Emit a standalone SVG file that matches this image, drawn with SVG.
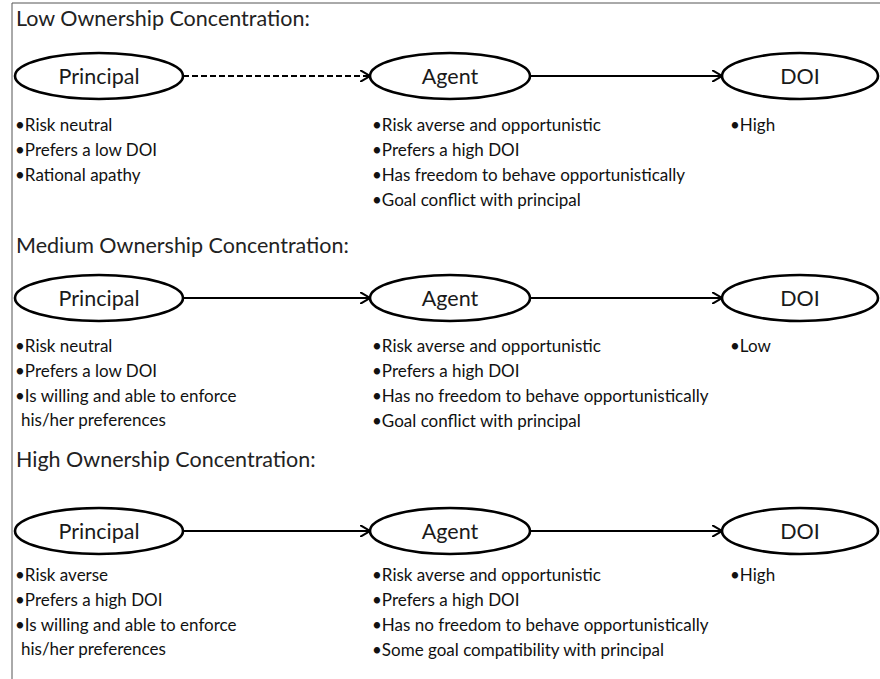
<svg xmlns="http://www.w3.org/2000/svg" width="880" height="679" viewBox="0 0 880 679">
<defs>
<style>
.t{font-family:Lato,"Liberation Sans",sans-serif;font-size:21.5px;fill:#222}
.l{font-family:Lato,"Liberation Sans",sans-serif;font-size:21.5px;fill:#1a1a1a;text-anchor:middle}
.b{font-family:Lato,"Liberation Sans",sans-serif;font-size:17px;fill:#111}
.e{fill:#fff;stroke:#000;stroke-width:2.6}
.c{stroke:#000;stroke-width:2;fill:none}
.d{stroke-dasharray:6 3}
</style>
<marker id="ah" viewBox="0 0 10 12" refX="10" refY="6" markerWidth="10" markerHeight="12" markerUnits="userSpaceOnUse" orient="auto">
<path d="M0,0 L10,6 L0,12" fill="none" stroke="#000" stroke-width="2"/>
</marker>
</defs>
<rect width="880" height="679" fill="#fff"/>
<path d="M880,3 H12 V679" fill="none" stroke="#555" stroke-width="1"/>

<g id="connectors">
<line class="c d" x1="183" y1="76" x2="370" y2="76" marker-end="url(#ah)"/>
<line class="c" x1="530" y1="76" x2="722" y2="76" marker-end="url(#ah)"/>
<line class="c" x1="183" y1="298" x2="370" y2="298" marker-end="url(#ah)"/>
<line class="c" x1="530" y1="298" x2="722" y2="298" marker-end="url(#ah)"/>
<line class="c" x1="183" y1="531" x2="370" y2="531" marker-end="url(#ah)"/>
<line class="c" x1="530" y1="531" x2="722" y2="531" marker-end="url(#ah)"/>
</g>

<g id="section-low">
<text class="t" x="16" y="26">Low Ownership Concentration:</text>
<g id="low-principal">
<ellipse class="e" cx="99" cy="76" rx="84" ry="23"/>
<text class="l" x="99" y="84">Principal</text>
<text class="b" x="15" y="131">•Risk neutral</text>
<text class="b" x="15" y="156">•Prefers a low DOI</text>
<text class="b" x="15" y="181">•Rational apathy</text>
</g>
<g id="low-agent">
<ellipse class="e" cx="450" cy="76" rx="80" ry="23"/>
<text class="l" x="450" y="84">Agent</text>
<text class="b" x="372" y="131">•Risk averse and opportunistic</text>
<text class="b" x="372" y="156">•Prefers a high DOI</text>
<text class="b" x="372" y="181">•Has freedom to behave opportunistically</text>
<text class="b" x="372" y="206">•Goal conflict with principal</text>
</g>
<g id="low-doi">
<ellipse class="e" cx="800" cy="76" rx="78" ry="23"/>
<text class="l" x="800" y="84">DOI</text>
<text class="b" x="730" y="131">•High</text>
</g>
</g>

<g id="section-medium">
<text class="t" x="16" y="253">Medium Ownership Concentration:</text>
<g id="med-principal">
<ellipse class="e" cx="99" cy="298" rx="84" ry="23"/>
<text class="l" x="99" y="306">Principal</text>
<text class="b" x="15" y="352">•Risk neutral</text>
<text class="b" x="15" y="377">•Prefers a low DOI</text>
<text class="b" x="15" y="402">•Is willing and able to enforce</text>
<text class="b" x="21" y="426">his/her preferences</text>
</g>
<g id="med-agent">
<ellipse class="e" cx="450" cy="298" rx="80" ry="23"/>
<text class="l" x="450" y="306">Agent</text>
<text class="b" x="372" y="352">•Risk averse and opportunistic</text>
<text class="b" x="372" y="377">•Prefers a high DOI</text>
<text class="b" x="372" y="402">•Has no freedom to behave opportunistically</text>
<text class="b" x="372" y="427">•Goal conflict with principal</text>
</g>
<g id="med-doi">
<ellipse class="e" cx="800" cy="298" rx="78" ry="23"/>
<text class="l" x="800" y="306">DOI</text>
<text class="b" x="730" y="352">•Low</text>
</g>
</g>

<g id="section-high">
<text class="t" x="16" y="467">High Ownership Concentration:</text>
<g id="high-principal">
<ellipse class="e" cx="99" cy="531" rx="84" ry="23"/>
<text class="l" x="99" y="539">Principal</text>
<text class="b" x="15" y="581">•Risk averse</text>
<text class="b" x="15" y="606">•Prefers a high DOI</text>
<text class="b" x="15" y="631">•Is willing and able to enforce</text>
<text class="b" x="21" y="655">his/her preferences</text>
</g>
<g id="high-agent">
<ellipse class="e" cx="450" cy="531" rx="80" ry="23"/>
<text class="l" x="450" y="539">Agent</text>
<text class="b" x="372" y="581">•Risk averse and opportunistic</text>
<text class="b" x="372" y="606">•Prefers a high DOI</text>
<text class="b" x="372" y="631">•Has no freedom to behave opportunistically</text>
<text class="b" x="372" y="656">•Some goal compatibility with principal</text>
</g>
<g id="high-doi">
<ellipse class="e" cx="800" cy="531" rx="78" ry="23"/>
<text class="l" x="800" y="539">DOI</text>
<text class="b" x="730" y="581">•High</text>
</g>
</g>
</svg>
